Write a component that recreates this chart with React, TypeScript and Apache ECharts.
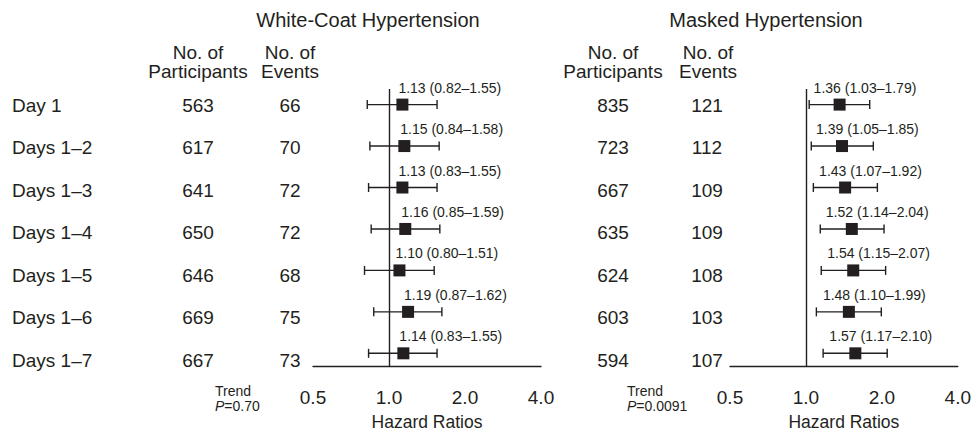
import React, { useEffect, useRef } from "react";
import * as echarts from "echarts";

const rowLabels = ["Day 1", "Days 1–2", "Days 1–3", "Days 1–4", "Days 1–5", "Days 1–6", "Days 1–7"];
const wcParticipants = [563, 617, 641, 650, 646, 669, 667];
const wcEvents = [66, 70, 72, 72, 68, 75, 73];
const wcHR = [1.13, 1.15, 1.13, 1.16, 1.1, 1.19, 1.14];
const wcLower = [0.82, 0.84, 0.83, 0.85, 0.8, 0.87, 0.83];
const wcUpper = [1.55, 1.58, 1.55, 1.59, 1.51, 1.62, 1.55];
const mhParticipants = [835, 723, 667, 635, 624, 603, 594];
const mhEvents = [121, 112, 109, 109, 108, 103, 107];
const mhHR = [1.36, 1.39, 1.43, 1.52, 1.54, 1.48, 1.57];
const mhLower = [1.03, 1.05, 1.07, 1.14, 1.15, 1.1, 1.17];
const mhUpper = [1.79, 1.85, 1.92, 2.04, 2.07, 1.99, 2.1];
const xTickValues = [0.5, 1, 2, 4];
const panelTitles = ["White-Coat Hypertension", "Masked Hypertension"];
const trendP = ["0.70", "0.0091"];

const INK = "#231f20";
const FONT = '"Liberation Sans", Arial, Helvetica, sans-serif';

export default function App() {
  const ref = useRef<HTMLDivElement>(null);

  useEffect(() => {
    document.body.style.margin = "0";
    const chart = echarts.init(ref.current!, null, { renderer: "svg" });

    const W = 974;
    const gridTop = 89;
    const gridBottom = 63;
    const rowStep = 42.5;
    const firstRowY = 105;
    const plotH = 436 - gridTop - gridBottom;
    const yMin = -(firstRowY - gridTop) / rowStep;
    const yMax = yMin + plotH / rowStep;

    const colX = { label: 12, wcP: 198, wcE: 290, mhP: 613, mhE: 707 };
    const cellPos: number[][] = [];
    const cellText: string[] = [];
    const cellAlign: string[] = [];
    rowLabels.forEach((lab, i) => {
      cellPos.push([colX.label, i]); cellText.push(lab); cellAlign.push("left");
      cellPos.push([colX.wcP, i]); cellText.push(String(wcParticipants[i])); cellAlign.push("center");
      cellPos.push([colX.wcE, i]); cellText.push(String(wcEvents[i])); cellAlign.push("center");
      cellPos.push([colX.mhP, i]); cellText.push(String(mhParticipants[i])); cellAlign.push("center");
      cellPos.push([colX.mhE, i]); cellText.push(String(mhEvents[i])); cellAlign.push("center");
    });

    const fmt = (v: number) => v.toFixed(2);
    const forestData = (hr: number[], lo: number[], hi: number[]) =>
      hr.map((h, i) => [h, lo[i], hi[i], i]);

    const makeForest = (idx: number, hr: number[], lo: number[], hi: number[], labelShift: number) => ({
      type: "custom",
      xAxisIndex: idx,
      yAxisIndex: idx,
      data: forestData(hr, lo, hi),
      renderItem: (params: any, api: any) => {
        const row = api.value(3);
        const pe = api.coord([api.value(0), row]);
        const pl = api.coord([api.value(1), row]);
        const ph = api.coord([api.value(2), row]);
        const cap = 4.5;
        const s = 12;
        const i = params.dataIndex;
        const text = `${fmt(hr[i])} (${fmt(lo[i])}–${fmt(hi[i])})`;
        const lineStyle = { stroke: INK, lineWidth: 1.4 };
        return {
          type: "group",
          children: [
            { type: "line", shape: { x1: pl[0], y1: pl[1], x2: ph[0], y2: ph[1] }, style: lineStyle },
            { type: "line", shape: { x1: pl[0], y1: pl[1] - cap, x2: pl[0], y2: pl[1] + cap }, style: lineStyle },
            { type: "line", shape: { x1: ph[0], y1: ph[1] - cap, x2: ph[0], y2: ph[1] + cap }, style: lineStyle },
            { type: "rect", shape: { x: pe[0] - s / 2, y: pe[1] - s / 2, width: s, height: s }, style: { fill: INK } },
            {
              type: "text",
              x: pe[0] + labelShift,
              y: pe[1] - 17,
              style: {
                text,
                fill: INK,
                fontSize: 14,
                fontFamily: FONT,
                align: "left",
                verticalAlign: "middle",
              },
            },
          ],
        };
      },
      markLine: {
        silent: true,
        symbol: ["none", "none"],
        label: { show: false },
        lineStyle: { color: INK, width: 1.4, type: "solid" },
        data: [{ xAxis: 1 }],
      },
      z: 3,
    });

    const forestAxis = (gridIndex: number) => ({
      type: "log",
      logBase: 2,
      gridIndex,
      position: "bottom",
      min: xTickValues[0],
      max: xTickValues[xTickValues.length - 1],
      splitNumber: 3,
      axisLine: { show: true, onZero: false, lineStyle: { color: INK, width: 1.4 } },
      axisTick: { show: false },
      splitLine: { show: false },
      axisLabel: {
        color: INK,
        fontSize: 19,
        fontFamily: FONT,
        margin: 22,
        formatter: (v: number) => Number(v).toFixed(1),
      },
      name: "Hazard Ratios",
      nameLocation: "middle",
      nameGap: 47,
      nameTextStyle: { color: INK, fontSize: 17.5, fontFamily: FONT },
    });

    const hiddenY = (gridIndex: number) => ({
      type: "value",
      gridIndex,
      inverse: true,
      min: yMin,
      max: yMax,
      show: false,
    });

    const txt = (x: number, y: number, text: string, size: number, align = "center", extra: any = {}) => ({
      type: "text",
      x,
      y,
      silent: true,
      style: { text, fill: INK, fontSize: size, fontFamily: FONT, align, verticalAlign: "middle", ...extra },
    });

    const option: any = {
      animation: false,
      backgroundColor: "#ffffff",
      grid: [
        { left: 0, width: W, top: gridTop, bottom: gridBottom },
        { left: 313, width: 228, top: gridTop, bottom: gridBottom },
        { left: 730, width: 228, top: gridTop, bottom: gridBottom },
      ],
      xAxis: [
        { type: "value", gridIndex: 0, min: 0, max: W, show: false },
        forestAxis(1),
        forestAxis(2),
      ],
      yAxis: [hiddenY(0), hiddenY(1), hiddenY(2)],
      series: [
        {
          type: "custom",
          xAxisIndex: 0,
          yAxisIndex: 0,
          data: cellPos,
          renderItem: (params: any, api: any) => {
            const p = api.coord([api.value(0), api.value(1)]);
            const i = params.dataIndex;
            return {
              type: "text",
              x: p[0],
              y: p[1],
              style: {
                text: cellText[i],
                fill: INK,
                fontSize: 19,
                fontFamily: FONT,
                align: cellAlign[i],
                verticalAlign: "middle",
              },
            };
          },
        },
        makeForest(1, wcHR, wcLower, wcUpper, -4),
        makeForest(2, mhHR, mhLower, mhUpper, -26),
      ],
      graphic: [
        txt(368, 20, panelTitles[0], 20),
        txt(766, 20, panelTitles[1], 20),
        txt(198, 52, "No. of", 19),
        txt(198, 71, "Participants", 19),
        txt(290, 52, "No. of", 19),
        txt(290, 71, "Events", 19),
        txt(613, 52, "No. of", 19),
        txt(613, 71, "Participants", 19),
        txt(708, 52, "No. of", 19),
        txt(708, 71, "Events", 19),
        txt(215, 391, "Trend", 14, "left"),
        txt(215, 406, `{i|P}=${trendP[0]}`, 14, "left", {
          rich: { i: { fontStyle: "italic", fontSize: 14, fontFamily: FONT, fill: INK } },
        }),
        txt(627, 391, "Trend", 14, "left"),
        txt(627, 406, `{i|P}=${trendP[1]}`, 14, "left", {
          rich: { i: { fontStyle: "italic", fontSize: 14, fontFamily: FONT, fill: INK } },
        }),
      ],
    };

    chart.setOption(option);
    return () => chart.dispose();
  }, []);

  return <div ref={ref} style={{ width: 974, height: 436 }} />;
}
